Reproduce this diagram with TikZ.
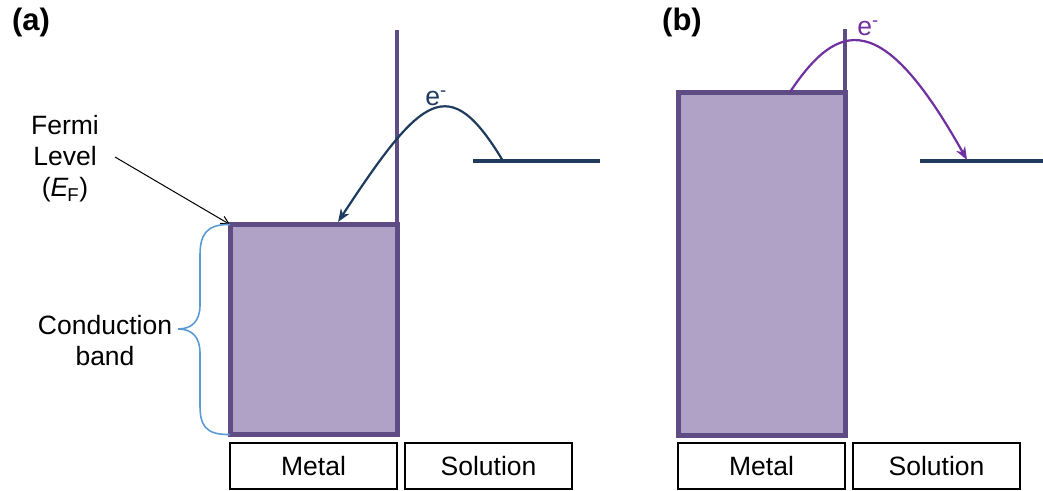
\documentclass[tikz,border=0pt]{standalone}
\usepackage{fontspec}
\setmainfont{Liberation Sans}
\usetikzlibrary{arrows.meta}
\definecolor{bandfill}{HTML}{B0A1C7}
\definecolor{bandedge}{HTML}{604C84}
\definecolor{navy}{HTML}{1F3B5E}
\definecolor{elpurple}{HTML}{7030A0}
\definecolor{bracebl}{HTML}{5B9BD5}
\begin{document}
\begin{tikzpicture}[x=1pt,y=-1pt,
  txt/.style={font=\fontsize{26.5}{30}\selectfont, inner sep=0pt},
  panel/.style={font=\fontsize{31}{34}\selectfont\bfseries, inner sep=0pt},
  band/.style={draw=bandedge, fill=bandfill, line width=5pt, minimum width=167pt, inner sep=0pt, outer sep=0pt},
  labbox/.style={draw=black, line width=1.5pt, minimum width=167pt, minimum height=46pt, inner sep=0pt, font=\fontsize{26.5}{30}\selectfont},
  wall/.style={draw=bandedge, line width=4pt},
  level/.style={draw=navy, line width=4pt},
  jump/.style={line width=2.2pt, -{Stealth[length=13pt,width=10pt,inset=4pt]}},
]
\useasboundingbox (0,0) rectangle (1043,490);

% ---------- panel (a) ----------
\node[panel] (pa) at (31,22) {(a)};
\node[band, minimum height=210pt] (ma) at (313.5,329.5) {};
\coordinate (wa1) at (397,30);
\draw[wall] (wa1) -- (ma.north east);
\coordinate (la1) at (473,161);
\coordinate (la2) at (600,161);
\draw[level] (la1) -- (la2);
\coordinate (sa) at (503,161);
\coordinate (ea) at (338,222);
\draw[jump, navy] (sa) .. controls (449,71) and (422,94) .. (ea);
\node[txt, text=navy] (ela) at (436,98) {e\textsuperscript{-}};

\node[txt, align=center] (fermi) at (65,159) {Fermi\\[1pt]Level\\[1pt]({\itshape E}\kern-1pt\textsubscript{F})};
\coordinate (fa) at (115,157);
\draw[black, line width=1pt, -{Straight Barb[length=8pt,width=8pt]}] (fa) -- (ma.north west);

\coordinate (ba) at (178,329);
\draw[bracebl, line width=1.6pt] (ma.north west) .. controls (205,224) and (200,236) .. (200,256) -- (200,305)
  .. controls (200,321) and (192,329) .. (ba)
  .. controls (192,329) and (200,337) .. (200,353) -- (200,405)
  .. controls (200,425) and (205,435) .. (ma.south west);
\node[txt, align=center] (cond) at (105,341) {Conduction\\[1pt]band};

\node[labbox] (meta) at (313.5,466) {Metal};
\node[labbox] (sola) at (488.5,466) {Solution};

% ---------- panel (b) ----------
\node[panel] (pb) at (682,22) {(b)};
\node[band, minimum height=343pt] (mb) at (761.5,263.5) {};
\coordinate (wb1) at (845,29);
\draw[wall] (wb1) -- (mb.north east);
\coordinate (lb1) at (920,161);
\coordinate (lb2) at (1043,161);
\draw[level] (lb1) -- (lb2);
\coordinate (sb) at (790,92);
\coordinate (eb) at (967,160);
\draw[jump, elpurple] (sb) .. controls (838,20) and (882,8) .. (eb);
\node[txt, text=elpurple] (elb) at (868,28) {e\textsuperscript{-}};

\node[labbox] (metb) at (761.5,466) {Metal};
\node[labbox] (solb) at (936.5,466) {Solution};
\end{tikzpicture}
\end{document}
